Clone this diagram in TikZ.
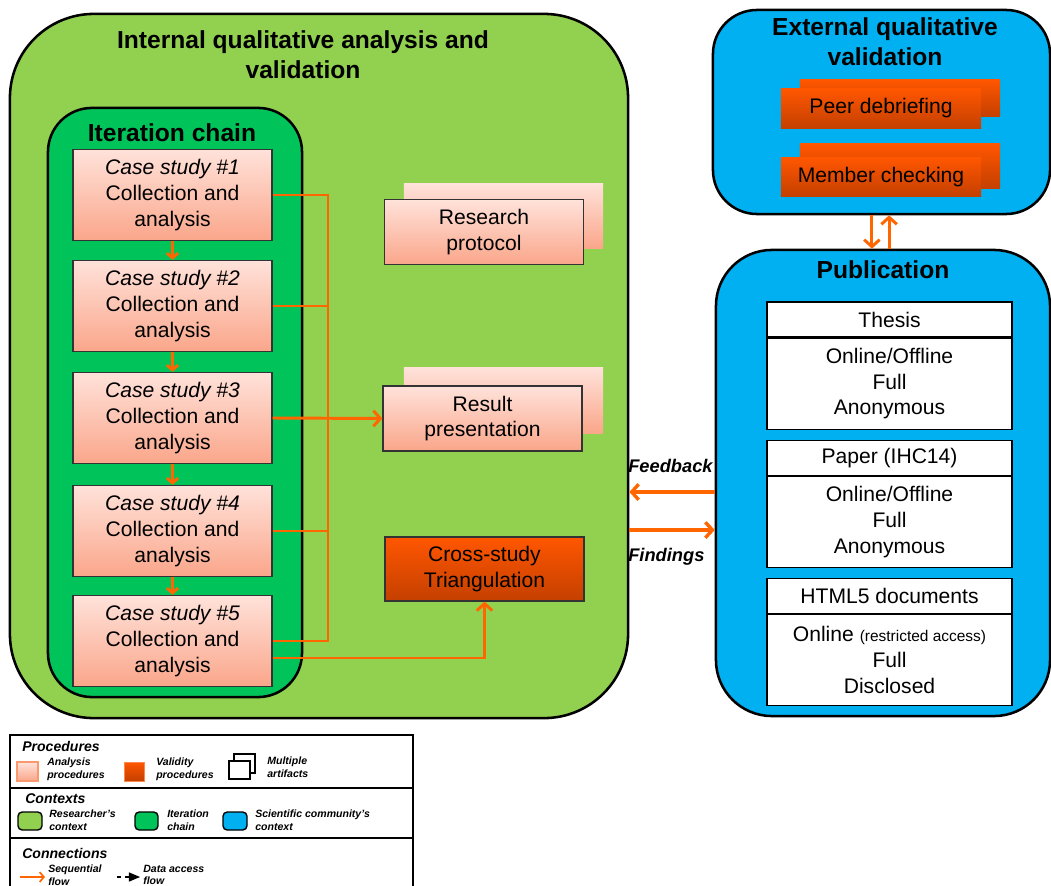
\documentclass[tikz,border=0pt]{standalone}
\usepackage{fontspec}
\setmainfont{Liberation Sans}
\usepackage{tikz}
\usetikzlibrary{arrows, arrows.meta, positioning}

\definecolor{cRes}{RGB}{146,208,80}
\definecolor{cIter}{RGB}{0,196,90}
\definecolor{cSci}{RGB}{0,176,240}
\definecolor{cFlow}{RGB}{255,102,0}
\definecolor{cAnaTop}{RGB}{255,226,218}
\definecolor{cAnaBot}{RGB}{250,166,138}
\definecolor{cValTop}{RGB}{255,86,0}
\definecolor{cValBot}{RGB}{196,64,0}
\newcommand{\fsN}{\fontsize{15}{18.4}\selectfont}
\newcommand{\fsT}{\fontsize{17.5}{21.5}\selectfont\bfseries}
\newcommand{\fsS}{\fontsize{11}{13}\selectfont}
\newcommand{\fsF}{\fontsize{13}{15}\selectfont\bfseries\itshape}
\newcommand{\fsH}{\fontsize{10}{12}\selectfont\bfseries\itshape}
\newcommand{\fsL}{\fontsize{7.5}{9}\selectfont\bfseries\itshape}

\begin{document}
\begin{tikzpicture}[x=0.025cm, y=-0.025cm,
    ctx/.style={draw=black, line width=1.8pt, rounded corners=#1, inner sep=0pt},
    ana/.style={draw=black!80, line width=0.8pt, top color=cAnaTop, bottom color=cAnaBot,
        minimum width=4.975cm, align=center, font=\fsN, inner sep=0pt},
    anaback/.style={top color=cAnaTop, bottom color=cAnaBot, minimum width=4.975cm, minimum height=1.625cm},
    val/.style={top color=cValTop, bottom color=cValBot, minimum width=5cm, align=center, font=\fsN, inner sep=0pt},
    tabhead/.style={draw=black, line width=0.8pt, fill=white, minimum width=6.125cm, minimum height=0.875cm, font=\fsN, inner sep=0pt},
    tabbody/.style={draw=black, line width=0.8pt, fill=white, minimum width=6.125cm, minimum height=2.275cm, align=center, font=\fsN, inner sep=0pt},
    ttl/.style={font=\fsT, align=center},
    flow/.style={draw=cFlow, line width=2.1pt},
    flowtip/.style={>={Straight Barb[length=5pt,width=11pt]}},
    smalltip/.style={>={Straight Barb[length=3.5pt,width=8pt]}},
    leghead/.style={font=\fsH, anchor=west, inner sep=0pt},
    leg/.style={font=\fsL, align=left, anchor=west, inner sep=0pt},
    legframe/.style={draw=black, line width=1.8pt}]

    \useasboundingbox (0,0) rectangle (1051,886);

    % contexts
    \node[ctx=2.1cm, fill=cRes, minimum width=15.45cm, minimum height=17.6cm] (researcher) at (319,366) {};
    \node[ttl] (restitle) at (303,55) {Internal qualitative analysis and\\validation};
    \node[ctx=1.1cm, fill=cIter, minimum width=6.35cm, minimum height=14.725cm] (iter) at (175,402.5) {};
    \node[ttl] (itertitle) at (172,133) {Iteration chain};
    \node[ctx=1.1cm, fill=cSci, minimum width=8.425cm, minimum height=5.1cm] (ext) at (881.5,112) {};
    \node[ttl] (exttitle) at (885,42) {External qualitative\\validation};
    \node[ctx=1.4cm, fill=cSci, minimum width=8.35cm, minimum height=11.65cm] (pub) at (883,483) {};
    \node[ttl] (pubtitle) at (883,270) {Publication};

    % case studies
    \node[ana, minimum height=2.275cm] (case1) at (172.5,195) {\textit{Case study \#1}\\Collection and\\analysis};
    \node[ana, minimum height=2.275cm] (case2) at (172.5,306) {\textit{Case study \#2}\\Collection and\\analysis};
    \node[ana, minimum height=2.275cm] (case3) at (172.5,418) {\textit{Case study \#3}\\Collection and\\analysis};
    \node[ana, minimum height=2.275cm] (case4) at (172.5,531) {\textit{Case study \#4}\\Collection and\\analysis};
    \node[ana, minimum height=2.275cm] (case5) at (172.5,641) {\textit{Case study \#5}\\Collection and\\analysis};

    % artifacts
    \node[anaback] (protocolback) at (503.5,216) {};
    \node[ana, minimum height=1.625cm] (protocol) at (484,232) {Research\\protocol};
    \node[anaback] (resultback) at (503.5,400.5) {};
    \node[ana, minimum height=1.625cm] (result) at (482.5,418.5) {Result\\presentation};
    \node[val, draw=black!80, line width=0.8pt, minimum width=4.975cm, minimum height=1.6cm] (triang) at (484.5,569) {Cross-study\\Triangulation};

    % external validation
    \node[val, minimum height=0.9cm] (peerback) at (900,98) {};
    \node[val, minimum height=0.975cm] (peer) at (881,108.5) {Peer debriefing};
    \node[val, minimum height=1.1cm] (memberback) at (900,166) {};
    \node[val, minimum height=0.95cm] (member) at (881,177) {Member checking};

    % publication
    \node[tabhead] (thesishead) at (889.5,319.5) {Thesis};
    \node[tabbody, below=0pt of thesishead] (thesisbody) {Online/Offline\\Full\\Anonymous};
    \node[tabhead, below=0.25cm of thesisbody] (paperhead) {Paper (IHC14)};
    \node[tabbody, below=0pt of paperhead] (paperbody) {Online/Offline\\Full\\Anonymous};
    \node[tabhead, below=0.25cm of paperbody] (htmlhead) {HTML5 documents};
    \node[tabbody, below=0pt of htmlhead] (htmlbody) {Online {\fsS(restricted access)}\\Full\\Disclosed};

    % sequential flow
    \draw[flow, smalltip, ->] (case1.south) -- (case2.north);
    \draw[flow, smalltip, ->] (case2.south) -- (case3.north);
    \draw[flow, smalltip, ->] (case3.south) -- (case4.north);
    \draw[flow, smalltip, ->] (case4.south) -- (case5.north);

    \coordinate (bus1) at (328,195);
    \coordinate (bus5) at (328,641);
    \draw[flow] (case1.east) -- (bus1) -- (bus5) -- (case5.east);
    \draw[flow] (case2.east) -- (case2.east -| bus1);
    \draw[flow] (case4.east) -- (case4.east -| bus1);
    \draw[flow, flowtip, ->] (case3.east) -- (result.west);
    \coordinate (case5low) at ([yshift=-0.425cm]case5.east);
    \draw[flow, flowtip, ->] (case5low) -| (triang.south);

    \coordinate (extdn) at ([xshift=-0.24cm]ext.south);
    \coordinate (extup) at ([xshift=0.19cm]ext.south);
    \draw[flow, flowtip, ->] (extdn) -- (extdn |- pub.north);
    \draw[flow, flowtip, ->] (extup |- pub.north) -- (extup);

    \coordinate (fb) at ([yshift=-0.225cm]pub.west);
    \coordinate (fd) at ([yshift=-1.175cm]pub.west);
    \draw[flow, flowtip, line width=2.4pt, ->] (fb) -- (fb -| researcher.east);
    \draw[flow, flowtip, line width=2.4pt, ->] (fd -| researcher.east) -- (fd);
    \node[font=\fsF, anchor=west, inner sep=0pt] (fblabel) at (628,466) {Feedback};
    \node[font=\fsF, anchor=west, inner sep=0pt] (fdlabel) at (628,557) {Findings};

    % legend
    \draw[legframe] (10,735) rectangle (413,788);
    \draw[legframe] (10,788) rectangle (413,838);
    \draw[legframe] (10,838) rectangle (413,910);

    \node[leghead] (lproc) at (22,746) {Procedures};
    \draw[draw=cAnaBot!80!cFlow, line width=0.8pt, top color=cAnaTop, bottom color=cAnaBot] (17,762) rectangle (38,781);
    \node[leg] (lana) at (47,769) {Analysis\\procedures};
    \draw[draw=cValTop!70!white, line width=0.6pt, top color=cValTop, bottom color=cValBot] (124,762) rectangle (144,781);
    \node[leg] (lval) at (156,769) {Validity\\procedures};
    \draw[black, line width=0.8pt, fill=white] (234,754) rectangle (255,773);
    \draw[black, line width=0.8pt, fill=white] (229,761) rectangle (250,779);
    \node[leg] (lmult) at (267,767) {Multiple\\artifacts};

    \node[leghead] (lctx) at (25,799) {Contexts};
    \draw[black, line width=1pt, fill=cRes, rounded corners=3pt] (18,812) rectangle (42,830);
    \node[leg] (lres) at (49,820) {Researcher's\\context};
    \draw[black, line width=1pt, fill=cIter, rounded corners=3pt] (135,812) rectangle (158,830);
    \node[leg] (liter) at (167,820) {Iteration\\chain};
    \draw[black, line width=1pt, fill=cSci, rounded corners=3pt] (223,812) rectangle (247,830);
    \node[leg] (lsci) at (255,820) {Scientific community's\\context};

    \node[leghead] (lconn) at (22,853) {Connections};
    \coordinate (seqa) at (20,877);
    \coordinate (seqb) at (45,877);
    \draw[flow, line width=1.2pt, >={Straight Barb[length=3pt,width=7pt]}, ->] (seqa) -- (seqb);
    \node[leg] (lseq) at (48,875) {Sequential\\flow};
    \coordinate (daa) at (117,877);
    \coordinate (dab) at (140,877);
    \draw[>=triangle 45, ->, dashed, line width=0.8pt] (daa) -- (dab);
    \node[leg] (lda) at (143,875) {Data access\\flow};
\end{tikzpicture}
\end{document}
